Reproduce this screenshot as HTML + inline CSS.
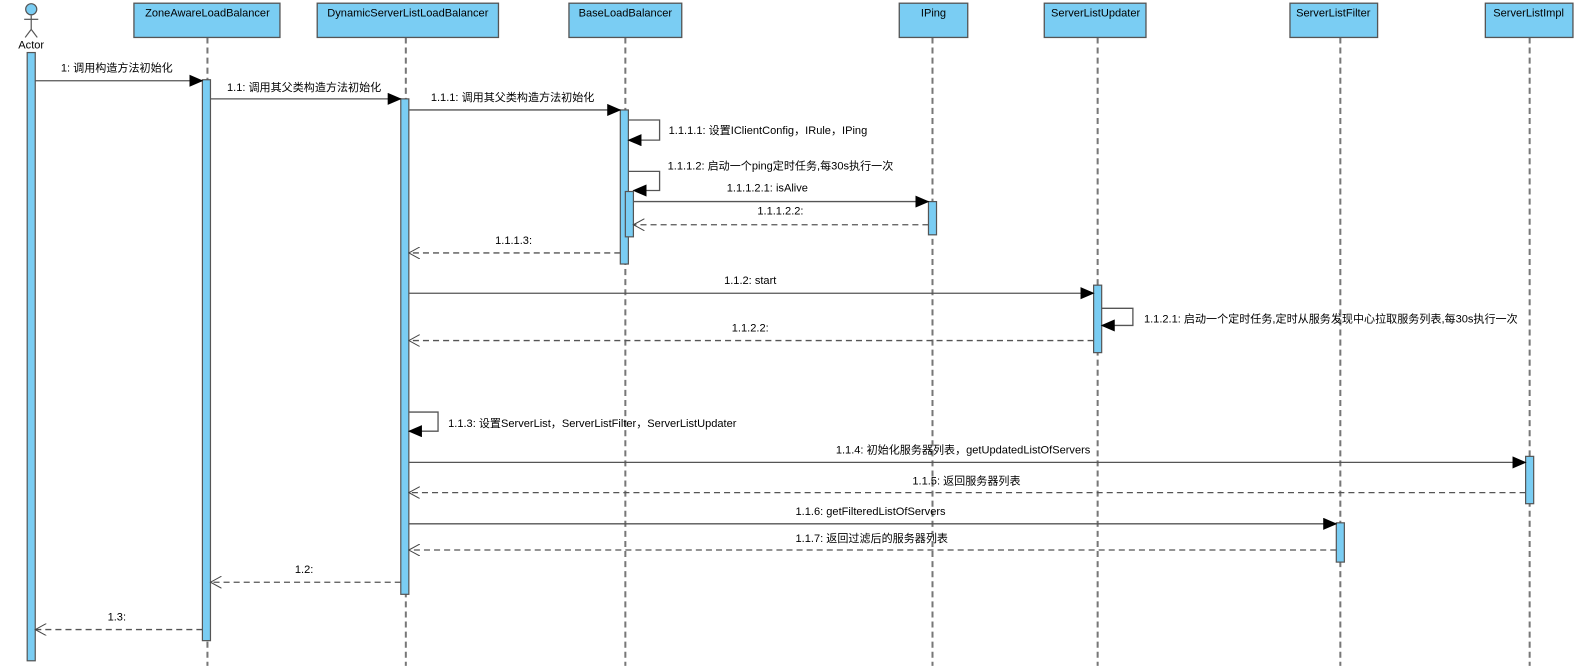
<!DOCTYPE html>
<html><head><meta charset="utf-8"><style>
html,body{margin:0;padding:0;background:#fff;}
svg{display:block;}
text{font-family:"Liberation Sans","Noto Sans CJK SC",sans-serif;font-size:11px;fill:#000;}
</style></head><body>
<svg width="1580" height="666" viewBox="0 0 1569 661" xmlns="http://www.w3.org/2000/svg">
<defs>
<marker id="f" markerWidth="14" markerHeight="12" refX="13" refY="6" orient="auto" markerUnits="userSpaceOnUse"><path d="M0,0 L14,6 L0,12 Z" fill="#000"/></marker>
<marker id="o" markerWidth="12" markerHeight="12" refX="11" refY="6" orient="auto" markerUnits="userSpaceOnUse"><path d="M0,0 L11,6 L0,12" fill="none" stroke="#444" stroke-width="1" stroke-dasharray="none"/></marker>
</defs>
<g stroke="#777" stroke-width="2" stroke-dasharray="6,4">
<line x1="206" y1="37" x2="206" y2="661"/>
<line x1="403" y1="37" x2="403" y2="661"/>
<line x1="621" y1="37" x2="621" y2="661"/>
<line x1="926" y1="37" x2="926" y2="661"/>
<line x1="1090" y1="37" x2="1090" y2="661"/>
<line x1="1331" y1="37" x2="1331" y2="661"/>
<line x1="1519" y1="37" x2="1519" y2="661"/>
</g>
<g fill="#7ACDF3" stroke="#555" stroke-width="1.3">
<rect x="133" y="3" width="145" height="34"/>
<rect x="315" y="3" width="180" height="34"/>
<rect x="565" y="3" width="112" height="34"/>
<rect x="893" y="3" width="68" height="34"/>
<rect x="1037" y="3" width="101" height="34"/>
<rect x="1281" y="3" width="87" height="34"/>
<rect x="1475" y="3" width="87" height="34"/>
</g>
<g text-anchor="middle">
<text x="206" y="16">ZoneAwareLoadBalancer</text>
<text x="405" y="16">DynamicServerListLoadBalancer</text>
<text x="621" y="16">BaseLoadBalancer</text>
<text x="927" y="16">IPing</text>
<text x="1088" y="16">ServerListUpdater</text>
<text x="1324" y="16">ServerListFilter</text>
<text x="1518" y="16">ServerListImpl</text>
<text x="31" y="48">Actor</text>
</g>
<g stroke="#555" stroke-width="1.2" fill="none">
<circle cx="31" cy="9" r="5.5" fill="#7ACDF3"/>
<line x1="31" y1="15" x2="31" y2="29"/>
<line x1="24" y1="19" x2="38" y2="19"/>
<line x1="31" y1="29" x2="25" y2="37"/>
<line x1="31" y1="29" x2="37" y2="37"/>
</g>
<g fill="#7ACDF3" stroke="#555" stroke-width="1.2">
<rect x="27" y="52" width="8" height="604"/>
<rect x="201" y="79" width="8" height="557"/>
<rect x="398" y="98" width="8" height="492"/>
<rect x="616" y="109" width="8" height="153"/>
<rect x="621" y="190" width="8" height="45"/>
<rect x="922" y="200" width="8" height="33"/>
<rect x="1086" y="283" width="8" height="67"/>
<rect x="1515" y="453" width="8" height="47"/>
<rect x="1327" y="519" width="8" height="39"/>
</g>
<g stroke="#555" stroke-width="1.3" fill="none" marker-end="url(#f)">
<line x1="35" y1="80" x2="201" y2="80"/>
<line x1="209" y1="98" x2="398" y2="98"/>
<line x1="406" y1="109" x2="616" y2="109"/>
<polyline points="624,119 655,119 655,139 624,139"/>
<polyline points="624,170 655,170 655,189 629,189"/>
<line x1="629" y1="200" x2="922" y2="200"/>
<line x1="406" y1="291" x2="1086" y2="291"/>
<polyline points="1094,306 1125,306 1125,323 1094,323"/>
<polyline points="406,409 435,409 435,428 406,428"/>
<line x1="406" y1="459" x2="1515" y2="459"/>
<line x1="406" y1="520" x2="1327" y2="520"/>
</g>
<g stroke="#555" stroke-width="1.3" fill="none" stroke-dasharray="6,4" marker-end="url(#o)">
<line x1="922" y1="223" x2="629" y2="223"/>
<line x1="616" y1="251" x2="406" y2="251"/>
<line x1="1086" y1="338" x2="406" y2="338"/>
<line x1="1515" y1="489" x2="406" y2="489"/>
<line x1="1327" y1="546" x2="406" y2="546"/>
<line x1="398" y1="578" x2="209" y2="578"/>
<line x1="201" y1="625" x2="35" y2="625"/>
</g>
<g text-anchor="middle">
<text x="116" y="71">1: 调用构造方法初始化</text>
<text x="302" y="90">1.1: 调用其父类构造方法初始化</text>
<text x="509" y="100">1.1.1: 调用其父类构造方法初始化</text>
<text x="762" y="190">1.1.1.2.1: isAlive</text>
<text x="775" y="213">1.1.1.2.2:</text>
<text x="510" y="242">1.1.1.3:</text>
<text x="745" y="282">1.1.2: start</text>
<text x="745" y="329">1.1.2.2:</text>
<text x="302" y="569">1.2:</text>
<text x="116" y="616">1.3:</text>
</g>
<text x="664" y="133">1.1.1.1: 设置IClientConfig，IRule，IPing</text>
<text x="663" y="168">1.1.1.2: 启动一个ping定时任务,每30s执行一次</text>
<text x="1136" y="320">1.1.2.1: 启动一个定时任务,定时从服务发现中心拉取服务列表,每30s执行一次</text>
<text x="445" y="424">1.1.3: 设置ServerList，ServerListFilter，ServerListUpdater</text>
<text x="830" y="450">1.1.4: 初始化服务器列表，getUpdatedListOfServers</text>
<text x="906" y="481">1.1.5: 返回服务器列表</text>
<text x="790" y="511">1.1.6: getFilteredListOfServers</text>
<text x="790" y="538">1.1.7: 返回过滤后的服务器列表</text>
</svg>
</body></html>
